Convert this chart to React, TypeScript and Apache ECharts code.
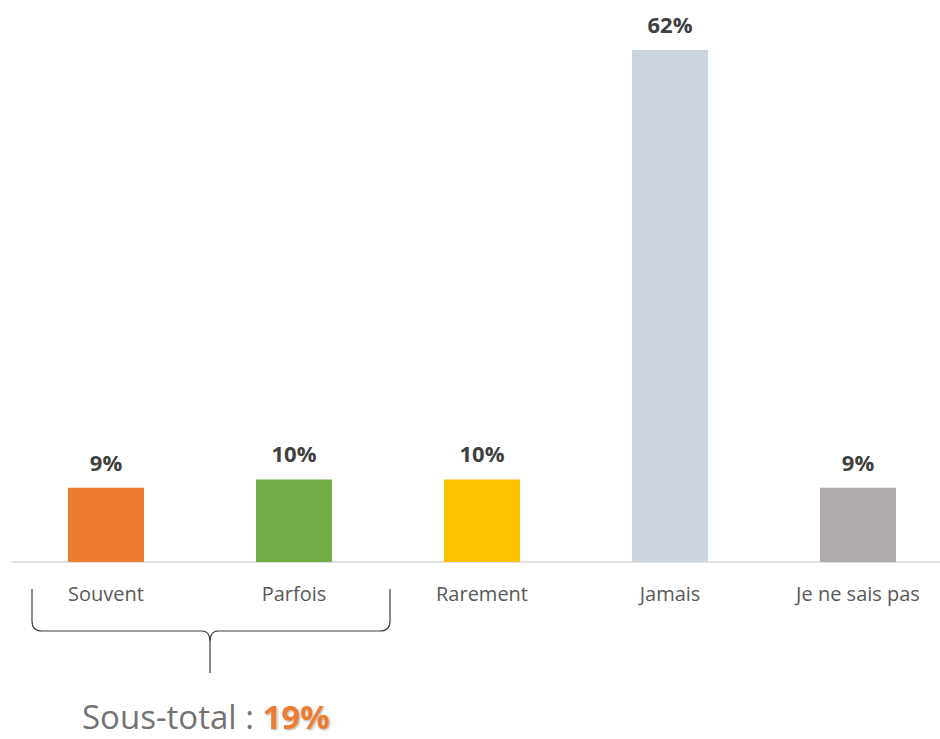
import React, { useEffect, useRef } from "react";
import * as echarts from "echarts";

const categories = ["Souvent", "Parfois", "Rarement", "Jamais", "Je ne sais pas"];
const values = [9, 10, 10, 62, 9];
const barColors = ["#ED7D31", "#70AD47", "#FFC000", "#CBD4DF", "#AFABAB"];
const subtotalLabel = "Sous-total : ";
const subtotalValue = 19;

echarts.graphic.registerShape(
  "brace",
  echarts.graphic.extendPath(
    "M32,589 L32,621 Q32,631 42,631 L202,631 Q210,631 210,642 L210,673 M210,642 Q210,631 218,631 L380,631 Q390,631 390,621 L390,589",
    {}
  )
);

export default function App() {
  const ref = useRef<HTMLDivElement>(null);
  useEffect(() => {
    if (!ref.current) return;
    const chart = echarts.init(ref.current, null, { renderer: "svg" });
    chart.setOption({
      animation: false,
      grid: { left: 12, right: 0, top: 50, bottom: 177 },
      xAxis: {
        type: "category",
        data: categories,
        axisLine: { lineStyle: { color: "#D9D9D9", width: 1.5 } },
        axisTick: { show: false },
        axisLabel: {
          color: "#595959",
          fontSize: 20,
          fontFamily: "Open Sans",
          margin: 21,
        },
      },
      yAxis: {
        type: "value",
        min: 0,
        max: 62,
        show: false,
        splitLine: { show: false },
      },
      series: [
        {
          type: "bar",
          barWidth: 76,
          data: values.map((v, i) => ({ value: v, itemStyle: { color: barColors[i] } })),
          label: {
            show: true,
            position: "top",
            distance: 15,
            formatter: "{c}%",
            color: "#404040",
            fontSize: 22,
            fontWeight: "bold",
            fontFamily: "Open Sans",
          },
        },
      ],
      graphic: [
        {
          type: "brace",
          shape: {},
          style: { fill: "none", stroke: "#404040", lineWidth: 1.2 },
        },
        {
          type: "text",
          left: 82,
          top: 700,
          style: {
            text: "{a|" + subtotalLabel + "}{b|" + subtotalValue + "%}",
            rich: {
              a: { fontSize: 33, lineHeight: 30, fontFamily: "Open Sans", fill: "#737373" },
              b: {
                fontSize: 33,
                lineHeight: 30,
                fontFamily: "Open Sans",
                fontWeight: "bold",
                fill: "#ED7D31",
                textShadowColor: "rgba(0,0,0,0.35)",
                textShadowBlur: 2,
                textShadowOffsetX: 1,
                textShadowOffsetY: 1,
              },
            },
          },
        },
      ],
    });
    return () => chart.dispose();
  }, []);
  return (
    <div style={{ position: "fixed", left: 0, top: 0, width: 940, height: 739, overflow: "hidden", background: "#fff" }}>
      <div ref={ref} style={{ position: "absolute", left: 0, top: 0, width: 952, height: 739 }} />
    </div>
  );
}
